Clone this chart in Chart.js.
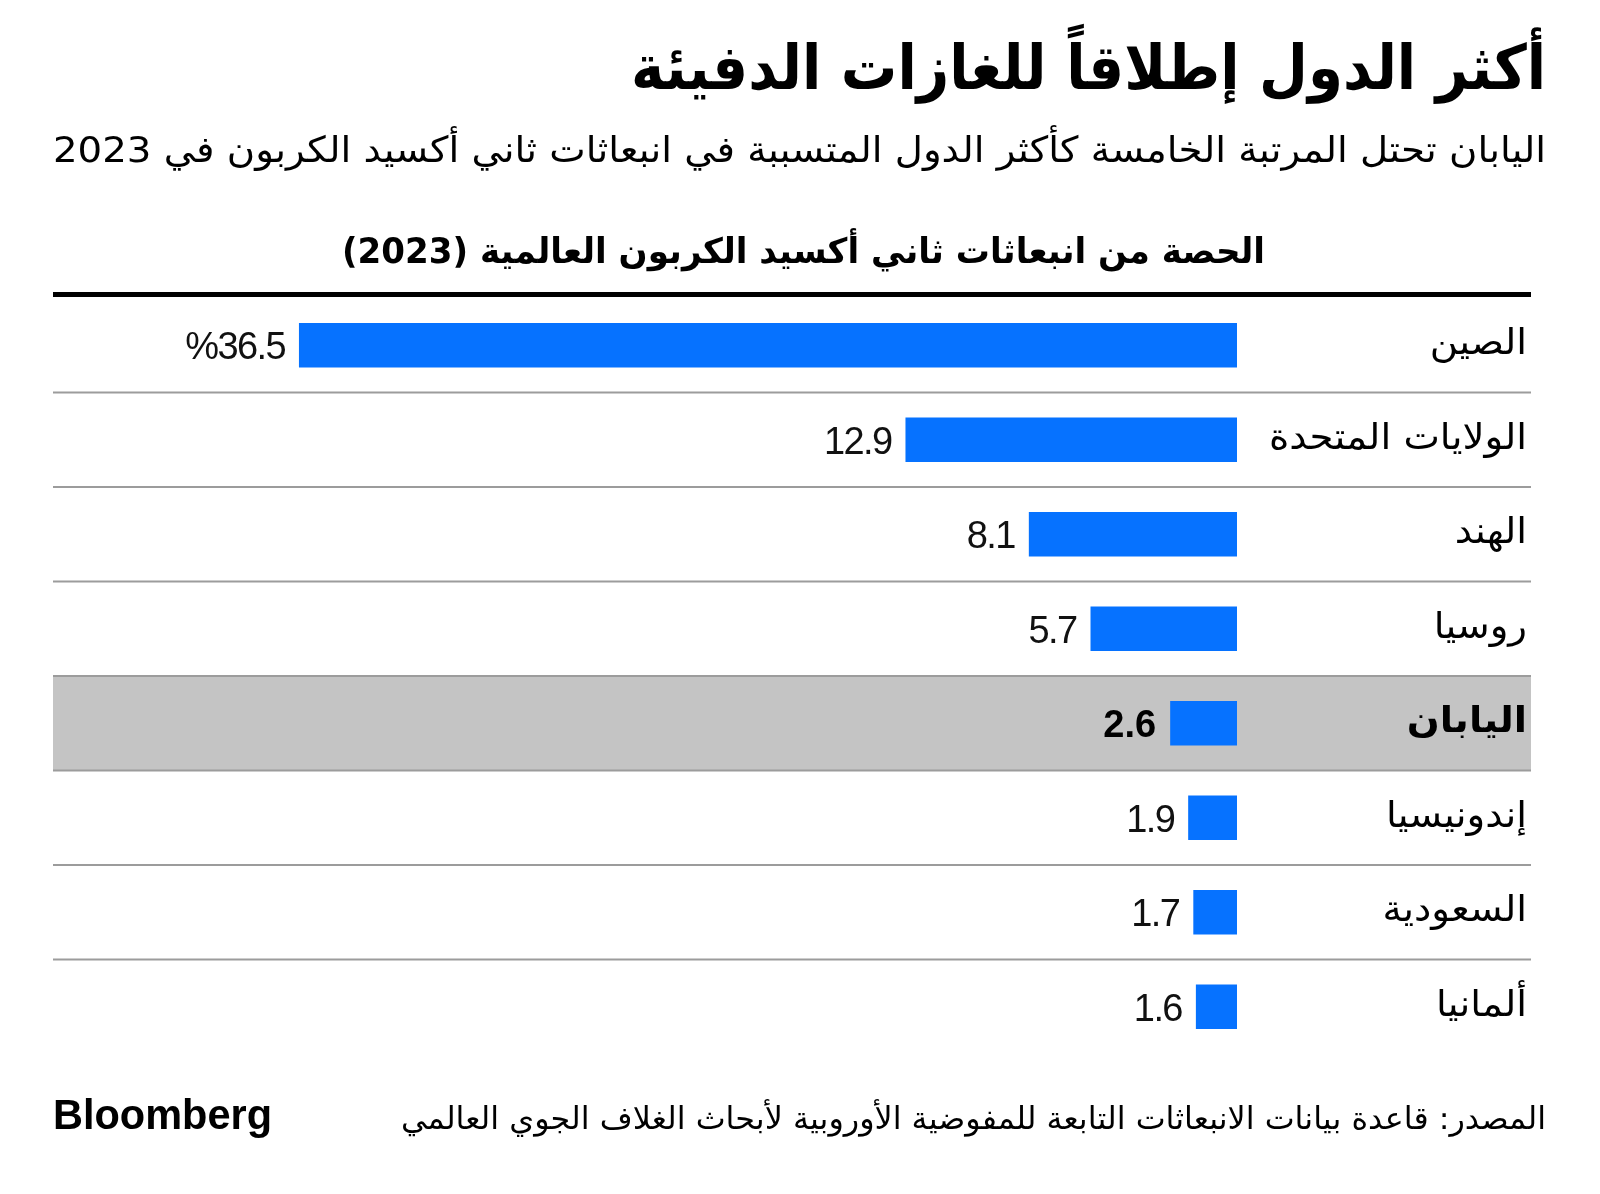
<!DOCTYPE html>
<html lang="ar">
<head>
<meta charset="utf-8">
<script src="https://cdn.jsdelivr.net/npm/chart.js@4.4.0/dist/chart.umd.min.js"></script>
<style>
  html, body { margin: 0; padding: 0; background: #ffffff; }
  #wrap { position: relative; width: 1600px; height: 1194px; }
  canvas { display: block; }
</style>
</head>
<body>
<div id="wrap"><canvas id="c" width="1600" height="1194"></canvas></div>
<script>
// ---- data ----
const categories = ['الصين', 'الولايات المتحدة', 'الهند', 'روسيا', 'اليابان', 'إندونيسيا', 'السعودية', 'ألمانيا'];
const shares = [36.5, 12.9, 8.1, 5.7, 2.6, 1.9, 1.7, 1.6];
const highlightCategory = 'اليابان';
const titleText = 'أكثر الدول إطلاقاً للغازات الدفيئة';
const subtitleText = 'اليابان تحتل المرتبة الخامسة كأكثر الدول المتسببة في انبعاثات ثاني أكسيد الكربون في 2023';
const headingText = 'الحصة من انبعاثات ثاني أكسيد الكربون العالمية (2023)';
const sourceText = 'المصدر: قاعدة بيانات الانبعاثات التابعة للمفوضية الأوروبية لأبحاث الغلاف الجوي العالمي';
const brandText = 'Bloomberg';

const valueLabels = shares.map((v, i) => (i === 0 ? '%' : '') + v.toFixed(1));

// ---- style ----
const BAR = '#0672ff';
const AR = '"DejaVu Sans", sans-serif';
const LAT = '"Liberation Sans", Arial, sans-serif';
const LINE_L = 53, LINE_R = 1531;

function drawFit(ctx, text, font, x, y, width, align, dir, sy) {
  ctx.save();
  ctx.font = font;
  ctx.direction = dir || 'rtl';
  ctx.textBaseline = 'alphabetic';
  const w = ctx.measureText(text).width;
  const s = width / w;
  ctx.translate(x, y);
  ctx.scale(s, sy || 1);
  ctx.textAlign = align;
  ctx.fillStyle = '#000';
  ctx.fillText(text, 0, 0);
  ctx.restore();
}

const decor = {
  id: 'decor',
  beforeDatasetsDraw(chart) {
    const ctx = chart.ctx;
    const y = chart.scales.y;
    const area = chart.chartArea;
    const rowH = (area.bottom - area.top) / categories.length;
    ctx.save();
    const hi = categories.indexOf(highlightCategory);
    if (hi >= 0) {
      const cy = y.getPixelForValue(hi);
      ctx.fillStyle = '#c4c4c4';
      ctx.fillRect(LINE_L, cy - rowH / 2, LINE_R - LINE_L, rowH);
    }
    ctx.strokeStyle = '#9c9c9c';
    ctx.lineWidth = 2;
    for (let i = 0; i < categories.length - 1; i++) {
      const sy = y.getPixelForValue(i) + rowH / 2;
      ctx.beginPath();
      ctx.moveTo(LINE_L, sy);
      ctx.lineTo(LINE_R, sy);
      ctx.stroke();
    }
    ctx.fillStyle = '#000';
    ctx.fillRect(LINE_L, area.top - 6, LINE_R - LINE_L, 5);
    ctx.restore();
  },
  afterDatasetsDraw(chart) {
    const ctx = chart.ctx;
    const meta = chart.getDatasetMeta(0);
    ctx.save();
    const labFont = '36px ' + AR;
    const labFontB = 'bold 36px ' + AR;
    ctx.font = labFont;
    ctx.direction = 'rtl';
    const refW = ctx.measureText('الولايات المتحدة').width;
    const labScale = 258 / refW;
    meta.data.forEach((bar, i) => {
      const isHi = categories[i] === highlightCategory;
      ctx.save();
      ctx.font = isHi ? labFontB : labFont;
      ctx.direction = 'rtl';
      ctx.textAlign = 'right';
      ctx.textBaseline = 'alphabetic';
      ctx.fillStyle = '#000';
      ctx.translate(1527, bar.y + 9);
      ctx.scale(labScale, 1);
      ctx.fillText(categories[i], 0, 0);
      ctx.restore();
      ctx.save();
      ctx.font = (isHi ? 'bold ' : '') + '38px ' + LAT;
      ctx.letterSpacing = isHi ? '0px' : '-1.6px';
      ctx.direction = 'ltr';
      ctx.textAlign = 'right';
      ctx.textBaseline = 'alphabetic';
      ctx.fillStyle = isHi ? '#000' : '#111';
      ctx.fillText(valueLabels[i], Math.min(bar.x, bar.base) - 14, bar.y + 14);
      ctx.restore();
    });
    ctx.restore();
  },
  afterDraw(chart) {
    const ctx = chart.ctx;
    drawFit(ctx, titleText, 'bold 62px ' + AR, 1546, 89, 915, 'right');
    drawFit(ctx, subtitleText, '36px ' + AR, 1546, 162, 1493, 'right');
    drawFit(ctx, headingText, 'bold 35px ' + AR, 1265, 263, 923, 'right');
    drawFit(ctx, sourceText, '31px ' + AR, 1546, 1129, 1145, 'right');
    drawFit(ctx, brandText, 'bold 43px ' + LAT, 53, 1129, 219, 'left', 'ltr');
  }
};

new Chart(document.getElementById('c'), {
  type: 'bar',
  data: {
    labels: categories,
    datasets: [{
      data: shares,
      backgroundColor: BAR,
      borderWidth: 0,
      barPercentage: 0.47,
      categoryPercentage: 1.0
    }]
  },
  options: {
    indexAxis: 'y',
    responsive: false,
    animation: false,
    devicePixelRatio: 1,
    layout: { padding: { left: 53, right: 363, top: 298, bottom: 140 } },
    plugins: { legend: { display: false }, tooltip: { enabled: false }, title: { display: false } },
    scales: {
      x: { type: 'linear', min: 0, max: 46.07, reverse: true, display: false, grid: { display: false } },
      y: { display: false, grid: { display: false } }
    }
  },
  plugins: [decor]
});
</script>
</body>
</html>
